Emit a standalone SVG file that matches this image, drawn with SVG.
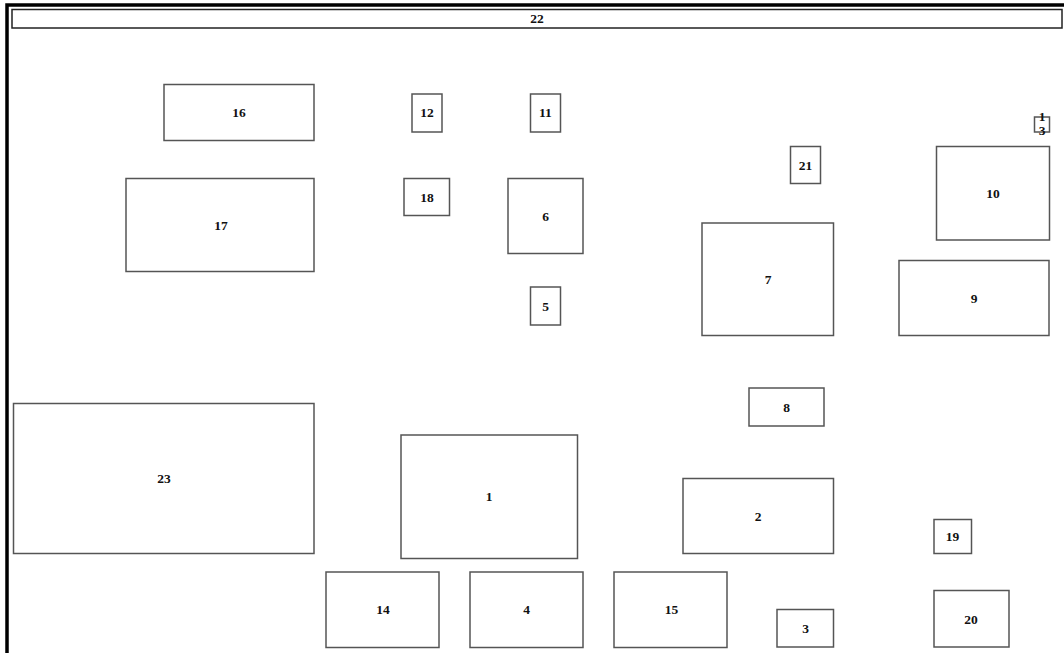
<svg xmlns="http://www.w3.org/2000/svg" width="1064" height="653" viewBox="0 0 1064 653">
<style>
.n rect{fill:#fff;stroke:#555;stroke-width:1.5}
.n text{font-family:"Liberation Serif","Times New Roman",serif;font-weight:bold;font-size:13.5px;fill:#111;text-anchor:middle}
.frame{stroke:#000;stroke-width:3.5;fill:none}
</style>
<rect width="1064" height="653" fill="#fff"/>
<path class="frame" d="M7,653 V5 H1064"/>
<g id="n22" class="n"><rect x="12" y="9.5" width="1050" height="18.5" style="stroke:#222"/><text x="537" y="23">22</text></g>
<g id="n16" class="n"><rect x="164" y="84.5" width="150" height="56"/><text x="239" y="117">16</text></g>
<g id="n12" class="n"><rect x="412" y="94" width="30" height="38"/><text x="427" y="117">12</text></g>
<g id="n11" class="n"><rect x="530.5" y="94" width="30" height="38"/><text x="545.5" y="117">11</text></g>
<g id="n13" class="n"><rect x="1034.5" y="117" width="15" height="15"/><text x="1042" y="120.5">1</text><text x="1042" y="135">3</text></g>
<g id="n21" class="n"><rect x="790.5" y="146.5" width="30" height="37"/><text x="805.5" y="169.5">21</text></g>
<g id="n10" class="n"><rect x="936.5" y="146.5" width="113" height="93.5"/><text x="993" y="197.5">10</text></g>
<g id="n18" class="n"><rect x="404" y="178.5" width="45.5" height="37"/><text x="427" y="201.5">18</text></g>
<g id="n6" class="n"><rect x="508" y="178.5" width="75" height="75"/><text x="545.5" y="220.5">6</text></g>
<g id="n17" class="n"><rect x="126" y="178.5" width="188" height="93"/><text x="221" y="229.5">17</text></g>
<g id="n7" class="n"><rect x="702" y="223" width="131.5" height="112.5"/><text x="768" y="283.5">7</text></g>
<g id="n9" class="n"><rect x="899" y="260.5" width="150" height="75"/><text x="974" y="302.5">9</text></g>
<g id="n5" class="n"><rect x="530.5" y="287" width="30" height="38"/><text x="545.5" y="310.5">5</text></g>
<g id="n8" class="n"><rect x="749" y="388" width="75" height="38"/><text x="786.5" y="411.5">8</text></g>
<g id="n23" class="n"><rect x="13.5" y="403.5" width="300.5" height="150"/><text x="164" y="483">23</text></g>
<g id="n1" class="n"><rect x="401" y="435" width="176.5" height="123.5"/><text x="489" y="501">1</text></g>
<g id="n2" class="n"><rect x="683" y="478.5" width="150.5" height="75"/><text x="758" y="520.5">2</text></g>
<g id="n19" class="n"><rect x="934" y="519.5" width="37.5" height="34"/><text x="952.5" y="540.5">19</text></g>
<g id="n14" class="n"><rect x="326" y="572" width="113" height="75.5"/><text x="383" y="614">14</text></g>
<g id="n4" class="n"><rect x="470" y="572" width="113" height="75.5"/><text x="526.5" y="614">4</text></g>
<g id="n15" class="n"><rect x="614" y="572" width="113" height="75.5"/><text x="671.5" y="614">15</text></g>
<g id="n20" class="n"><rect x="934" y="590.5" width="75" height="56.5"/><text x="971" y="623.5">20</text></g>
<g id="n3" class="n"><rect x="777" y="609.5" width="56.5" height="37.5"/><text x="805.5" y="633">3</text></g>
<g id="connectors"></g>
</svg>
